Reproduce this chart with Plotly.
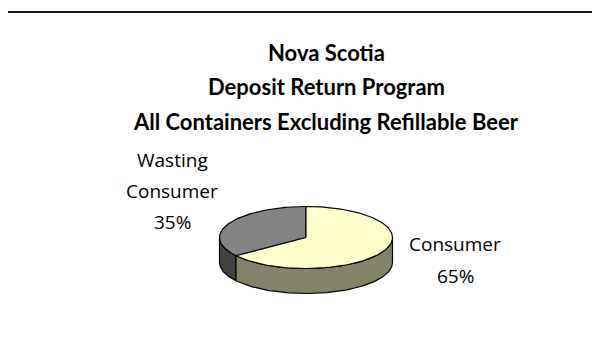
import numpy as np
import plotly.graph_objects as go

# ---------- Data ----------
title_lines = ["Nova Scotia", "Deposit Return Program", "All Containers Excluding Refillable Beer"]
labels = ["Wasting Consumer", "Consumer"]
shares = [35, 65]
top_colors = ["#838383", "#FFFFCC"]
side_colors = ["#424242", "#83836A"]

# ---------- Pie geometry (pixels, y down) ----------
W, H = 600, 343
cx, cy = 298, 229.5
ra, rb = 86.5, 31
depth = 25
start = 90.0  # first slice starts at 12 o'clock, runs counter-clockwise


def arc(t1, t2, dy=0, n=120):
    t = np.radians(np.linspace(t1, t2, n))
    return cx + ra * np.cos(t), cy - rb * np.sin(t) + dy


total = float(sum(shares))
bounds = []
a = start
for v in shares:
    b = a + 360 * v / total
    bounds.append((a, b))
    a = b

fig = go.Figure()

# side walls (front half only: 180..360 deg)
for (t1, t2), col in zip(bounds, side_colors):
    for off in (0, 360):
        lo, hi = max(t1, 180 + off), min(t2, 360 + off)
        if hi <= lo:
            continue
        xs, ys = arc(lo, hi)
        xb, yb = arc(hi, lo, dy=depth)
        fig.add_trace(go.Scatter(
            x=np.r_[xs, xb, xs[:1]], y=np.r_[ys, yb, ys[:1]],
            mode="lines", fill="toself", fillcolor=col,
            line=dict(color="black", width=1.2), hoverinfo="skip", showlegend=False))

# top faces
for (t1, t2), col, lab, v in zip(bounds, top_colors, labels, shares):
    xs, ys = arc(t1, t2)
    fig.add_trace(go.Scatter(
        x=np.r_[cx, xs, cx], y=np.r_[cy, ys, cy],
        mode="lines", fill="toself", fillcolor=col,
        line=dict(color="black", width=1.2), name=lab,
        text=f"{lab}: {v}%", hoverinfo="text", showlegend=False))

# ---------- Text ----------
for i, line in enumerate(title_lines):
    fig.add_annotation(x=318, y=44 + 34.5 * i, text=f"<b>{line}</b>", showarrow=False,
                       xanchor="center", yanchor="middle",
                       font=dict(family="Lato", size=22, color="black"))

label_pos = [(164, 152, 31), (447, 236, 32)]
for lab, v, (lx, ly, step) in zip(labels, shares, label_pos):
    lines = lab.split(" ") + [f"{v}%"]
    for j, line in enumerate(lines):
        fig.add_annotation(x=lx, y=ly + step * j, text=line, showarrow=False,
                           xanchor="center", yanchor="middle",
                           font=dict(family="Open Sans", size=19, color="black"))

# top frame line
fig.add_shape(type="line", xref="paper", yref="paper", x0=0, x1=1, y0=1 - 4 / H, y1=1 - 4 / H,
              line=dict(color="#1a1a1a", width=1.8))

fig.update_xaxes(range=[0, W], visible=False, fixedrange=True)
fig.update_yaxes(range=[H, 0], visible=False, fixedrange=True)
fig.update_layout(width=W, height=H, margin=dict(l=0, r=0, t=0, b=0),
                  paper_bgcolor="white", plot_bgcolor="white")

fig.write_html("out.html")
